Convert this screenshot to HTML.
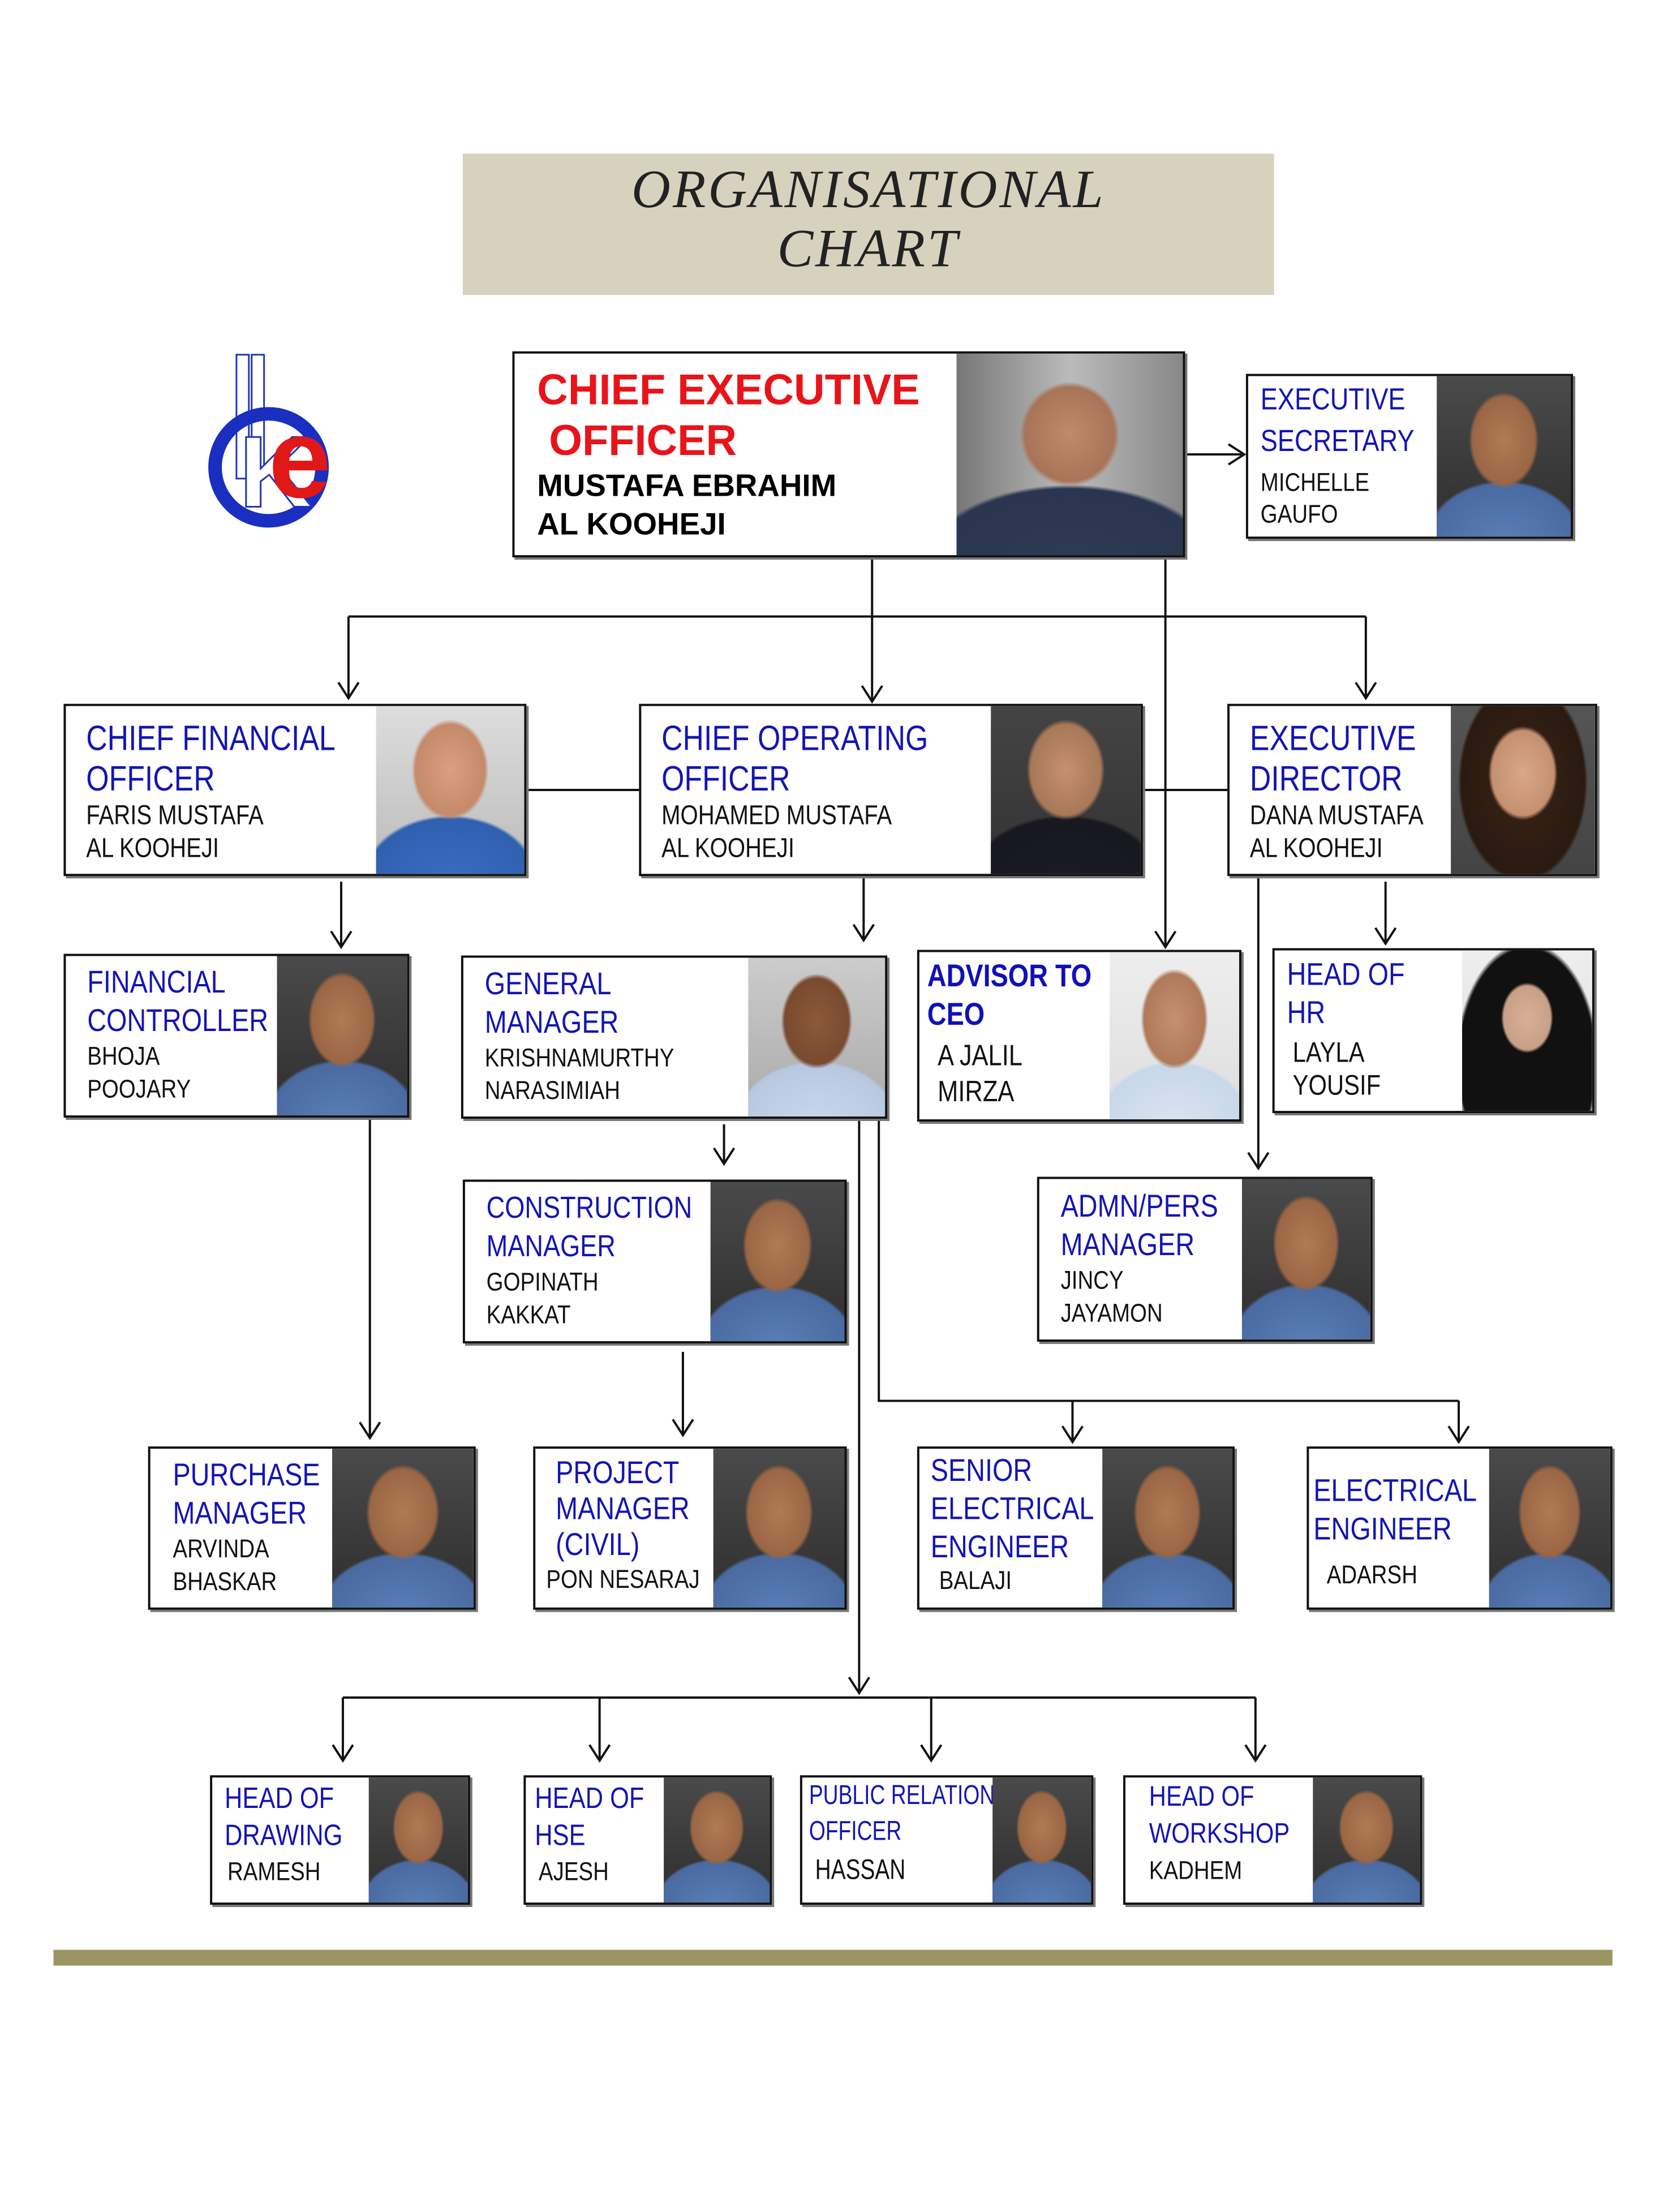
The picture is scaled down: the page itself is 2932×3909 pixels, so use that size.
<!DOCTYPE html>
<html><head><meta charset="utf-8">
<style>
body{margin:0;background:#fff;}
#o{position:relative;width:2932px;height:3909px;overflow:hidden;background:#fff;}
#c{position:absolute;left:0;top:0;width:2932px;height:3909px;transform:scale(0.995);transform-origin:0 0;font-family:"Liberation Sans",sans-serif;}
.b{position:absolute;border:4px solid #111;background:#fff;box-shadow:4px 4px 0 #777;box-sizing:border-box;overflow:hidden;}
.tx{position:absolute;left:36px;top:22px;transform:scaleX(0.84);transform-origin:0 0;}
.t{color:#1414b4;font-size:56px;line-height:68px;white-space:nowrap;}
.n{color:#111;font-size:46px;line-height:58px;white-space:nowrap;}
.p{position:absolute;right:0;top:0;bottom:0;background:
radial-gradient(ellipse 26% 30% at 50% 40%,#b07a55 0,#9a6644 90%,transparent 100%),
radial-gradient(ellipse 60% 40% at 50% 105%,#5a7fb8 0,#4a6aa0 95%,transparent 100%),
linear-gradient(#4a4a4a,#2e2e2e);}
</style></head><body><div id="o"><div id="c">

<div style="position:absolute;left:822px;top:273px;width:1441px;height:251px;background:#d7d2be;"></div>
<div style="position:absolute;left:822px;top:283px;width:1441px;text-align:center;font-family:'Liberation Serif',serif;font-style:italic;font-size:96px;line-height:105px;color:#222;letter-spacing:4px;">ORGANISATIONAL<br>CHART</div>

<!-- logo -->
<svg style="position:absolute;left:365px;top:625px" width="260" height="320">
<rect x="55" y="5" width="22" height="220" fill="#fff" stroke="#2233bb" stroke-width="3"/>
<rect x="82" y="5" width="22" height="220" fill="#fff" stroke="#2233bb" stroke-width="3"/>
<circle cx="112" cy="205" r="95" fill="none" stroke="#1a2fc0" stroke-width="24"/>
<text x="60" y="275" font-family="Liberation Sans" font-size="180" font-weight="bold" fill="#fff" stroke="#2233bb" stroke-width="3">K</text>
<text x="112" y="258" font-family="Liberation Sans" font-size="200" font-weight="bold" fill="#e01818">e</text>
</svg>

<svg style="position:absolute;left:0;top:0" width="2932" height="3909">
<defs><marker id="a" markerWidth="40" markerHeight="40" refX="20" refY="36" orient="0" markerUnits="userSpaceOnUse"><path d="M2,8 L20,36 L38,8" fill="none" stroke="#111" stroke-width="4"/></marker>
<marker id="r" markerWidth="40" markerHeight="40" refX="36" refY="20" markerUnits="userSpaceOnUse"><path d="M8,2 L36,20 L8,38" fill="none" stroke="#111" stroke-width="4"/></marker></defs>
<g stroke="#111" stroke-width="4" fill="none">
<path d="M2105 807 H2210" marker-end="url(#r)"/>
<path d="M1549 990 V1246" marker-end="url(#a)"/>
<path d="M619 1095 H2426"/>
<path d="M619 1095 V1240" marker-end="url(#a)"/>
<path d="M2426 1095 V1240" marker-end="url(#a)"/>
<path d="M2070 990 V1682" marker-end="url(#a)"/>
<path d="M935 1403 H1135 M2030 1403 H2180"/>
<path d="M606 1566 V1682" marker-end="url(#a)"/>
<path d="M1534 1556 V1670" marker-end="url(#a)"/>
<path d="M2461 1566 V1676" marker-end="url(#a)"/>
<path d="M2235 1556 V2075" marker-end="url(#a)"/>
<path d="M1286 1997 V2067" marker-end="url(#a)"/>
<path d="M1213 2401 V2549" marker-end="url(#a)"/>
<path d="M657 1985 V2554" marker-end="url(#a)"/>
<path d="M1526 1987 V3007" marker-end="url(#a)"/>
<path d="M1561 1987 V2488 H2591"/>
<path d="M1905 2488 V2561" marker-end="url(#a)"/>
<path d="M2591 2488 V2561" marker-end="url(#a)"/>
<path d="M609 3015 H2230"/>
<path d="M609 3015 V3127" marker-end="url(#a)"/>
<path d="M1065 3015 V3127" marker-end="url(#a)"/>
<path d="M1654 3015 V3127" marker-end="url(#a)"/>
<path d="M2230 3015 V3127" marker-end="url(#a)"/>
</g></svg>

<!-- CEO -->
<div class="b" style="left:910px;top:624px;width:1195px;height:366px;">
<div style="position:absolute;left:40px;top:20px;"><div style="color:#e8141a;font-weight:bold;font-size:76px;line-height:90px;white-space:nowrap;">CHIEF EXECUTIVE<br>&nbsp;OFFICER</div>
<div style="font-weight:bold;font-size:55px;line-height:68px;white-space:nowrap;">MUSTAFA EBRAHIM<br>AL KOOHEJI</div></div>
<div class="p" style="width:402px;background:radial-gradient(ellipse 22% 26% at 50% 40%,#c08a68 0,#a87458 90%,transparent 100%),radial-gradient(ellipse 65% 40% at 50% 105%,#2f3a55 0,#2a3550 95%,transparent 100%),linear-gradient(90deg,#777,#bbb,#888);"></div></div>

<div class="b" style="left:2213px;top:664px;width:581px;height:293px;"><div class="tx" style="left:22px;top:4px;"><div class="t" style="font-size:54px;line-height:74px">EXECUTIVE<br>SECRETARY</div><div class="n" style="font-size:46px;line-height:56px;margin-top:8px">MICHELLE<br>GAUFO</div></div><div class="p" style="width:238px"></div></div>

<div class="b" style="left:113px;top:1250px;width:822px;height:306px;"><div class="tx"><div class="t" style="font-size:62px;line-height:72px">CHIEF FINANCIAL<br>OFFICER</div><div class="n" style="font-size:48px">FARIS MUSTAFA<br>AL KOOHEJI</div></div><div class="p" style="width:263px;background:radial-gradient(ellipse 26% 30% at 50% 38%,#d9a080 0,#c48a6a 90%,transparent 100%),radial-gradient(ellipse 60% 40% at 50% 105%,#3a6cc0 0,#3060b0 95%,transparent 100%),linear-gradient(#ddd,#bbb);"></div></div>

<div class="b" style="left:1135px;top:1250px;width:895px;height:306px;"><div class="tx"><div class="t" style="font-size:62px;line-height:72px">CHIEF OPERATING<br>OFFICER</div><div class="n" style="font-size:48px">MOHAMED MUSTAFA<br>AL KOOHEJI</div></div><div class="p" style="width:266px;background:radial-gradient(ellipse 26% 30% at 50% 38%,#c49070 0,#a87858 90%,transparent 100%),radial-gradient(ellipse 65% 40% at 50% 105%,#1a1a22 0,#181820 95%,transparent 100%),linear-gradient(#444,#333);"></div></div>

<div class="b" style="left:2180px;top:1250px;width:657px;height:306px;"><div class="tx" style="left:36px"><div class="t" style="font-size:62px;line-height:72px">EXECUTIVE<br>DIRECTOR</div><div class="n" style="font-size:48px">DANA MUSTAFA<br>AL KOOHEJI</div></div><div class="p" style="width:256px;background:radial-gradient(ellipse 24% 28% at 50% 40%,#d8a888 0,#c49070 90%,transparent 100%),radial-gradient(ellipse 45% 60% at 50% 45%,#3a2418 0,#2a1a10 95%,transparent 100%),linear-gradient(#555,#444);"></div></div>

<div class="b" style="left:113px;top:1694px;width:614px;height:291px;"><div class="tx" style="left:38px;top:12px"><div class="t">FINANCIAL<br>CONTROLLER</div><div class="n">BHOJA<br>POOJARY</div></div><div class="p" style="width:231px"></div></div>

<div class="b" style="left:819px;top:1697px;width:757px;height:290px;"><div class="tx" style="left:38px;top:12px"><div class="t">GENERAL<br>MANAGER</div><div class="n">KRISHNAMURTHY<br>NARASIMIAH</div></div><div class="p" style="width:243px;background:radial-gradient(ellipse 26% 30% at 50% 40%,#8a5a3a 0,#7a4a30 90%,transparent 100%),radial-gradient(ellipse 60% 40% at 50% 105%,#c8d8ea 0,#b8c8e0 95%,transparent 100%),linear-gradient(#ccc,#aaa);"></div></div>

<div class="b" style="left:1629px;top:1687px;width:576px;height:305px;"><div class="tx" style="left:14px;top:8px"><div class="t" style="font-weight:bold;font-size:56px;line-height:68px;color:#1010b8">ADVISOR TO<br>CEO</div><div class="n" style="margin-left:22px;margin-top:8px;font-size:52px;line-height:64px">A JALIL<br>MIRZA</div></div><div class="p" style="width:230px;background:radial-gradient(ellipse 26% 30% at 50% 40%,#c49070 0,#b07a5a 90%,transparent 100%),radial-gradient(ellipse 60% 40% at 50% 105%,#d8e4f0 0,#c8d8ea 95%,transparent 100%),linear-gradient(#eee,#ddd);"></div></div>

<div class="b" style="left:2260px;top:1684px;width:572px;height:293px;"><div class="tx" style="left:22px;top:8px"><div class="t" style="font-size:56px;line-height:68px">HEAD OF<br>HR</div><div class="n" style="margin-left:12px;margin-top:8px;font-size:50px">LAYLA<br>YOUSIF</div></div><div class="p" style="width:231px;background:radial-gradient(ellipse 20% 22% at 50% 42%,#d8b098 0,#c8a088 90%,transparent 100%),radial-gradient(ellipse 55% 75% at 50% 70%,#111 0,#111 95%,transparent 100%),linear-gradient(#eee,#ddd);"></div></div>

<div class="b" style="left:822px;top:2095px;width:682px;height:291px;"><div class="tx" style="left:38px;top:12px"><div class="t" style="font-size:54px">CONSTRUCTION<br>MANAGER</div><div class="n">GOPINATH<br>KAKKAT</div></div><div class="p" style="width:238px"></div></div>

<div class="b" style="left:1842px;top:2090px;width:596px;height:293px;"><div class="tx" style="left:38px;top:14px"><div class="t" style="font-size:56px">ADMN/PERS<br>MANAGER</div><div class="n">JINCY<br>JAYAMON</div></div><div class="p" style="width:228px"></div></div>

<div class="b" style="left:263px;top:2569px;width:582px;height:290px;"><div class="tx" style="left:40px;top:12px"><div class="t">PURCHASE<br>MANAGER</div><div class="n">ARVINDA<br>BHASKAR</div></div><div class="p" style="width:251px"></div></div>

<div class="b" style="left:947px;top:2569px;width:557px;height:290px;"><div class="tx" style="left:36px;top:10px"><div class="t" style="line-height:64px">PROJECT<br>MANAGER<br>(CIVIL)</div><div class="n" style="margin-left:-20px">PON NESARAJ</div></div><div class="p" style="width:233px"></div></div>

<div class="b" style="left:1629px;top:2569px;width:564px;height:290px;"><div class="tx" style="left:20px;top:4px"><div class="t">SENIOR<br>ELECTRICAL<br>ENGINEER</div><div class="n" style="margin-left:18px;line-height:50px">BALAJI</div></div><div class="p" style="width:231px"></div></div>

<div class="b" style="left:2321px;top:2569px;width:543px;height:290px;"><div class="tx" style="left:8px;top:40px"><div class="t">ELECTRICAL<br>ENGINEER</div><div class="n" style="margin-left:28px;margin-top:18px">ADARSH</div></div><div class="p" style="width:215px"></div></div>

<div class="b" style="left:373px;top:3153px;width:462px;height:230px;"><div class="tx" style="left:22px;top:4px"><div class="t" style="font-size:52px;line-height:66px">HEAD OF<br>DRAWING</div><div class="n" style="margin-left:6px;line-height:60px">RAMESH</div></div><div class="p" style="width:176px"></div></div>

<div class="b" style="left:930px;top:3153px;width:441px;height:230px;"><div class="tx" style="left:16px;top:4px"><div class="t" style="font-size:52px;line-height:66px">HEAD OF<br>HSE</div><div class="n" style="margin-left:8px;line-height:60px">AJESH</div></div><div class="p" style="width:188px"></div></div>

<div class="b" style="left:1421px;top:3153px;width:521px;height:230px;"><div class="tx" style="left:12px;top:0px;transform:scaleX(0.78)"><div class="t" style="font-size:48px;line-height:64px">PUBLIC RELATION<br>OFFICER</div><div class="n" style="margin-left:14px;line-height:70px;font-size:50px">HASSAN</div></div><div class="p" style="width:175px"></div></div>

<div class="b" style="left:1995px;top:3153px;width:531px;height:230px;"><div class="tx" style="left:42px;top:0px"><div class="t" style="font-size:50px;line-height:66px">HEAD OF<br>WORKSHOP</div><div class="n" style="line-height:64px">KADHEM</div></div><div class="p" style="width:190px"></div></div>

<div style="position:absolute;left:95px;top:3463px;width:2769px;height:28px;background:#9b9562;"></div>
</div></div></body></html>
